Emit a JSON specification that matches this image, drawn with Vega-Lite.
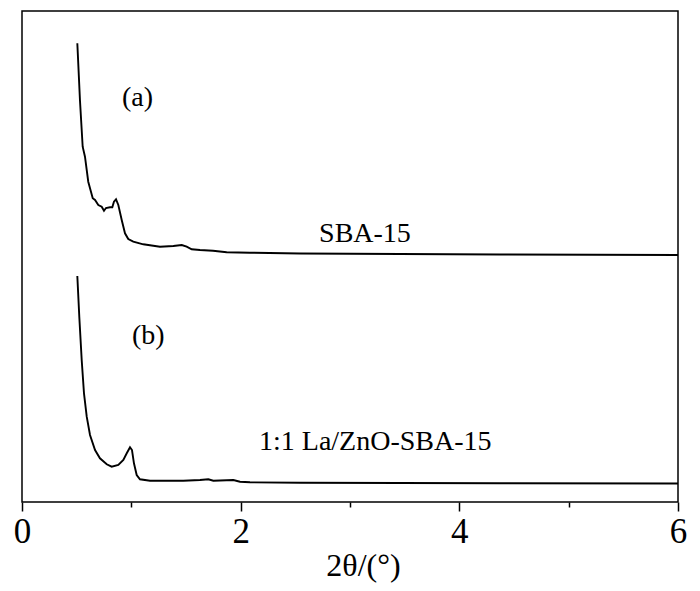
{
  "$schema": "https://vega.github.io/schema/vega-lite/v6.json",
  "width": 656,
  "height": 491,
  "autosize": {"type": "none"},
  "padding": {"left": 22, "top": 11, "right": 22, "bottom": 89},
  "background": "white",
  "config": {
    "view": {"stroke": "black", "strokeWidth": 1.5},
    "font": "Liberation Serif"
  },
  "layer": [
    {
      "data": {
        "values": [
          {"s": "a", "x": 0.506, "y": 459.7},
          {"s": "a", "x": 0.530, "y": 403},
          {"s": "a", "x": 0.555, "y": 356.3},
          {"s": "a", "x": 0.576, "y": 346.3},
          {"s": "a", "x": 0.606, "y": 321.3},
          {"s": "a", "x": 0.647, "y": 304.7},
          {"s": "a", "x": 0.668, "y": 303},
          {"s": "a", "x": 0.698, "y": 298},
          {"s": "a", "x": 0.729, "y": 296.3},
          {"s": "a", "x": 0.750, "y": 292.3},
          {"s": "a", "x": 0.768, "y": 295},
          {"s": "a", "x": 0.805, "y": 295.7},
          {"s": "a", "x": 0.826, "y": 295.7},
          {"s": "a", "x": 0.841, "y": 301.3},
          {"s": "a", "x": 0.860, "y": 303.7},
          {"s": "a", "x": 0.881, "y": 298},
          {"s": "a", "x": 0.912, "y": 283},
          {"s": "a", "x": 0.942, "y": 269.7},
          {"s": "a", "x": 0.972, "y": 264},
          {"s": "a", "x": 1.018, "y": 261.3},
          {"s": "a", "x": 1.109, "y": 258.7},
          {"s": "a", "x": 1.262, "y": 256.3},
          {"s": "a", "x": 1.384, "y": 257},
          {"s": "a", "x": 1.461, "y": 258},
          {"s": "a", "x": 1.506, "y": 256.3},
          {"s": "a", "x": 1.552, "y": 253.7},
          {"s": "a", "x": 1.628, "y": 253},
          {"s": "a", "x": 1.747, "y": 252.3},
          {"s": "a", "x": 1.872, "y": 250.7},
          {"s": "a", "x": 2.085, "y": 250.3},
          {"s": "a", "x": 2.543, "y": 249.5},
          {"s": "a", "x": 3.457, "y": 249},
          {"s": "a", "x": 4.372, "y": 248.5},
          {"s": "a", "x": 6.0, "y": 248},
          {"s": "b", "x": 0.506, "y": 227},
          {"s": "b", "x": 0.524, "y": 186.3},
          {"s": "b", "x": 0.546, "y": 143},
          {"s": "b", "x": 0.567, "y": 109.7},
          {"s": "b", "x": 0.592, "y": 86.3},
          {"s": "b", "x": 0.622, "y": 68},
          {"s": "b", "x": 0.668, "y": 53},
          {"s": "b", "x": 0.713, "y": 44.7},
          {"s": "b", "x": 0.775, "y": 38.7},
          {"s": "b", "x": 0.820, "y": 36.3},
          {"s": "b", "x": 0.881, "y": 38},
          {"s": "b", "x": 0.927, "y": 43},
          {"s": "b", "x": 0.958, "y": 49.7},
          {"s": "b", "x": 0.988, "y": 55.7},
          {"s": "b", "x": 1.006, "y": 53},
          {"s": "b", "x": 1.024, "y": 39.7},
          {"s": "b", "x": 1.049, "y": 28},
          {"s": "b", "x": 1.079, "y": 23.7},
          {"s": "b", "x": 1.171, "y": 22.3},
          {"s": "b", "x": 1.475, "y": 22.3},
          {"s": "b", "x": 1.628, "y": 23},
          {"s": "b", "x": 1.704, "y": 23.7},
          {"s": "b", "x": 1.750, "y": 22.3},
          {"s": "b", "x": 1.933, "y": 23},
          {"s": "b", "x": 1.994, "y": 21.3},
          {"s": "b", "x": 2.085, "y": 20.7},
          {"s": "b", "x": 2.543, "y": 20.3},
          {"s": "b", "x": 3.457, "y": 20},
          {"s": "b", "x": 4.372, "y": 19.7},
          {"s": "b", "x": 6.0, "y": 19.5}
        ]
      },
      "mark": {"type": "line", "color": "black", "strokeWidth": 1.9, "clip": true},
      "encoding": {
        "x": {
          "field": "x",
          "type": "quantitative",
          "scale": {"domain": [0, 6], "nice": false, "zero": false},
          "axis": {
            "values": [0, 1, 2, 3, 4, 5, 6],
            "format": "d",
            "labelExpr": "datum.value % 2 === 0 ? datum.label : ''",
            "ticks": true,
            "tickSize": {"condition": {"test": "datum.value % 2 === 0", "value": 9}, "value": 5},
            "tickColor": "black",
            "tickWidth": 1.5,
            "domain": false,
            "grid": false,
            "labelFlush": false,
            "labelOverlap": false,
            "labelFont": "Liberation Serif",
            "labelFontSize": 35,
            "labelColor": "black",
            "labelBaseline": "alphabetic",
            "labelPadding": 31,
            "title": "2θ/(°)",
            "titleFont": "Liberation Serif",
            "titleFontSize": 32,
            "titleFontWeight": "normal",
            "titleColor": "black",
            "titleBaseline": "alphabetic",
            "titleX": 341,
            "titleY": 73,
            "titleAnchor": "middle"
          }
        },
        "y": {
          "field": "y",
          "type": "quantitative",
          "scale": {"domain": [1, 492], "nice": false, "zero": false},
          "axis": null
        },
        "detail": {"field": "s"}
      }
    },
    {
      "data": {
        "values": [
          {"label": "(a)", "x": 0.914, "y": 397},
          {"label": "(b)", "x": 1.006, "y": 159},
          {"label": "SBA-15", "x": 2.717, "y": 261},
          {"label": "1:1 La/ZnO-SBA-15", "x": 2.168, "y": 53}
        ]
      },
      "mark": {"type": "text", "align": "left", "baseline": "alphabetic", "font": "Liberation Serif", "fontSize": 28, "color": "black"},
      "encoding": {
        "x": {"field": "x", "type": "quantitative"},
        "y": {"field": "y", "type": "quantitative"},
        "text": {"field": "label"}
      }
    }
  ]
}
